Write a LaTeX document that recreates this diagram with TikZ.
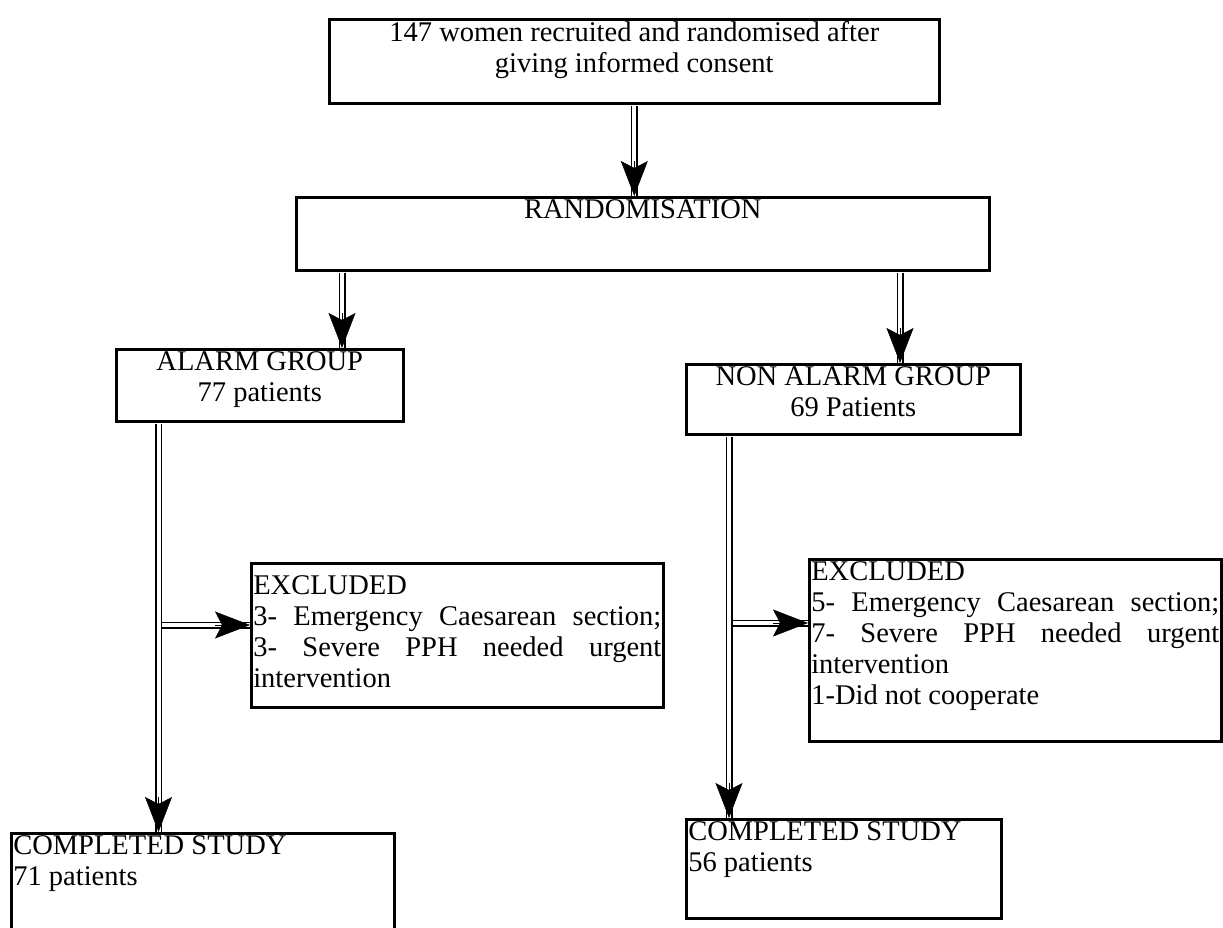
\documentclass[tikz,border=0pt]{standalone}
\usepackage{fontspec}
\setmainfont{Liberation Serif}
\usetikzlibrary{calc,arrows.meta}

\newcommand{\boxtext}[3]{\parbox[c][#2][t]{#1}{#3}}

\begin{document}
\begin{tikzpicture}[x=1pt, y=-1pt,
  box/.style={draw, line width=2.6pt, anchor=north west, inner sep=2pt, font=\fontsize{28.5}{31}\selectfont},
  shaft/.style={double, double distance=4pt, line width=1.5pt, shorten <=1.3pt},
  head/.style={-{Stealth[length=35pt,width=27pt,inset=7pt]}, line width=0.5pt}]

\useasboundingbox (0,0) rectangle (1223,928);

\node[box] (top) at (328,18) {\boxtext{606pt}{80pt}{\centering 147 women recruited and randomised after\\ giving informed consent}};
\node[box] (rand) at (295,196) {\boxtext{689pt}{69pt}{\centering RANDOMISATION}};

\node[box] (alarm) at (115,348) {\boxtext{283pt}{68pt}{\centering ALARM GROUP\\ 77 patients}};
\node[box] (nonalarm) at (685,363) {\boxtext{330pt}{66pt}{\centering NON ALARM GROUP\\ 69 Patients}};

\node[box] (exl) at (250,562) {\boxtext{408pt}{140pt}{\vspace*{10pt}EXCLUDED\\ 3- Emergency Caesarean section;\linebreak 3- Severe PPH needed urgent\linebreak intervention}};
\node[box] (exr) at (808,558) {\boxtext{408pt}{178pt}{EXCLUDED\\ 5- Emergency Caesarean section;\linebreak 7- Severe PPH needed urgent\linebreak intervention\\ 1-Did not cooperate}};

\node[box] (coml) at (10,832) {\boxtext{379pt}{106pt}{COMPLETED STUDY\\ 71 patients}};
\node[box] (comr) at (685,818) {\boxtext{311pt}{95pt}{COMPLETED STUDY\\ 56 patients}};

% columns and rows of the double arrows
\coordinate (ca) at (342,0);
\coordinate (cn) at (900,0);
\coordinate (cl) at (158.5,0);
\coordinate (cr) at (729,0);
\coordinate (rl) at (0,625);
\coordinate (rr) at (0,623);

\draw[shaft] (top.south) -- (rand.north -| top.south);
\draw[head] ($(rand.north -| top.south)+(0,-35)$) -- (rand.north -| top.south);

\draw[shaft] (rand.south -| ca) -- (alarm.north -| ca);
\draw[head] ($(alarm.north -| ca)+(0,-35)$) -- (alarm.north -| ca);
\draw[shaft] (rand.south -| cn) -- (nonalarm.north -| cn);
\draw[head] ($(nonalarm.north -| cn)+(0,-35)$) -- (nonalarm.north -| cn);

% branches to the excluded boxes
\draw[shaft] (rl -| cl) -- (rl -| exl.west);
\draw[head] ($(rl -| exl.west)+(-35,0)$) -- (rl -| exl.west);
\draw[shaft] (rr -| cr) -- (rr -| exr.west);
\draw[head] ($(rr -| exr.west)+(-35,0)$) -- (rr -| exr.west);

\draw[shaft] (alarm.south -| cl) -- (coml.north -| cl);
\draw[head] ($(coml.north -| cl)+(0,-35)$) -- (coml.north -| cl);
\draw[shaft] (nonalarm.south -| cr) -- (comr.north -| cr);
\draw[head] ($(comr.north -| cr)+(0,-35)$) -- (comr.north -| cr);

\end{tikzpicture}
\end{document}
